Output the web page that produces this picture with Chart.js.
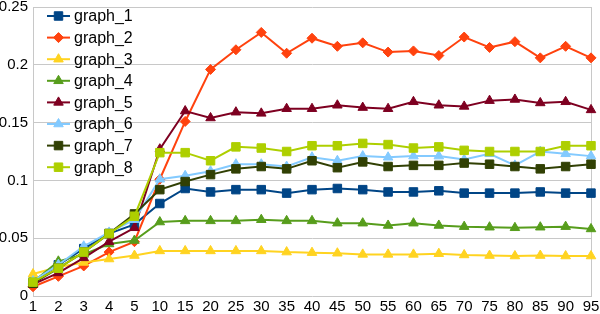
<!DOCTYPE html>
<html>
<head>
<meta charset="utf-8">
<script src="https://cdn.jsdelivr.net/npm/chart.js@4.4.0/dist/chart.umd.min.js"></script>
<style>
  html, body { margin: 0; padding: 0; background: #fff; }
  #wrap { width: 600px; height: 314px; position: relative; }
</style>
</head>
<body>
<div id="wrap"><canvas id="chart"></canvas></div>
<script>
const categories = ['1', '2', '3', '4', '5', '10', '15', '20', '25', '30', '35', '40', '45', '50', '55', '60', '65', '70', '75', '80', '85', '90', '95'];

const graph1 = [0.012, 0.027, 0.041, 0.054, 0.062, 0.080, 0.093, 0.090, 0.092, 0.092, 0.089, 0.092, 0.093, 0.092, 0.090, 0.090, 0.091, 0.089, 0.089, 0.089, 0.090, 0.089, 0.089];
const graph2 = [0.008, 0.017, 0.026, 0.038, 0.047, 0.101, 0.151, 0.196, 0.213, 0.228, 0.210, 0.223, 0.216, 0.219, 0.211, 0.212, 0.208, 0.224, 0.215, 0.220, 0.206, 0.216, 0.206];
const graph3 = [0.019, 0.025, 0.029, 0.032, 0.035, 0.039, 0.039, 0.039, 0.039, 0.039, 0.038, 0.0375, 0.037, 0.036, 0.036, 0.036, 0.0366, 0.0355, 0.035, 0.0346, 0.035, 0.0346, 0.0346];
const graph4 = [0.012, 0.030, 0.036, 0.045, 0.048, 0.064, 0.065, 0.065, 0.065, 0.066, 0.065, 0.065, 0.063, 0.063, 0.061, 0.063, 0.061, 0.060, 0.0595, 0.059, 0.0595, 0.060, 0.058];
const graph5 = [0.010, 0.020, 0.033, 0.047, 0.059, 0.127, 0.160, 0.154, 0.159, 0.158, 0.162, 0.162, 0.165, 0.163, 0.162, 0.168, 0.165, 0.164, 0.169, 0.170, 0.167, 0.168, 0.161];
const graph6 = [0.013, 0.027, 0.043, 0.055, 0.066, 0.101, 0.104, 0.108, 0.114, 0.114, 0.112, 0.120, 0.117, 0.121, 0.120, 0.121, 0.121, 0.118, 0.123, 0.113, 0.125, 0.123, 0.121];
const graph7 = [0.011, 0.024, 0.038, 0.054, 0.071, 0.092, 0.099, 0.105, 0.110, 0.112, 0.110, 0.117, 0.111, 0.116, 0.112, 0.113, 0.113, 0.115, 0.114, 0.112, 0.110, 0.112, 0.114];
const graph8 = [0.012, 0.024, 0.038, 0.054, 0.069, 0.124, 0.124, 0.117, 0.129, 0.128, 0.125, 0.130, 0.130, 0.132, 0.131, 0.128, 0.129, 0.126, 0.125, 0.125, 0.125, 0.130, 0.130];

const seriesNames = ['graph_1', 'graph_2', 'graph_3', 'graph_4', 'graph_5', 'graph_6', 'graph_7', 'graph_8'];
const seriesData = [graph1, graph2, graph3, graph4, graph5, graph6, graph7, graph8];
const seriesColors = ['#004586', '#ff420e', '#ffd320', '#579d1c', '#7e0021', '#83caff', '#314004', '#aecf00'];
const seriesMarkers = ['rect', 'rectRot', 'triangle', 'triangle', 'triangle', 'triangle', 'rect', 'rect'];
const yTicks = [0, 0.05, 0.1, 0.15, 0.2, 0.25];

const FONT = '"Liberation Sans", Arial, sans-serif';

function markerRadius(style) {
    if (style === 'rect') return 6;
    if (style === 'rectRot') return 5;
    return 5.5;
}

const datasets = seriesNames.map((name, i) => ({
    label: name,
    data: seriesData[i],
    borderColor: seriesColors[i],
    backgroundColor: seriesColors[i],
    borderWidth: 2,
    pointStyle: seriesMarkers[i],
    pointRadius: markerRadius(seriesMarkers[i]),
    pointBorderWidth: 1,
    pointBackgroundColor: seriesColors[i],
    pointBorderColor: seriesColors[i],
    tension: 0,
    fill: false,
    order: seriesNames.length - i
}));

// legend drawn inside the plot, line + marker like the original
const insideLegend = {
    id: 'insideLegend',
    afterDraw(chart) {
        const ctx = chart.ctx;
        const left = chart.chartArea.left;
        ctx.save();
        chart.data.datasets.forEach((ds, i) => {
            const y = 16 + i * 21.6;
            ctx.strokeStyle = ds.borderColor;
            ctx.fillStyle = ds.borderColor;
            ctx.lineWidth = 2;
            ctx.beginPath();
            ctx.moveTo(left + 14, y);
            ctx.lineTo(left + 37, y);
            ctx.stroke();
            ctx.lineWidth = 1;
            Chart.helpers.drawPoint(ctx, {
                pointStyle: ds.pointStyle,
                rotation: 0,
                radius: ds.pointRadius,
                borderWidth: 1
            }, left + 25.5, y);
            ctx.fillStyle = '#000';
            ctx.font = '16px ' + FONT;
            ctx.textBaseline = 'middle';
            ctx.textAlign = 'left';
            ctx.fillText(ds.label, left + 41, y + 1);
        });
        ctx.restore();
    }
};

const whiteBg = {
    id: 'whiteBg',
    beforeDraw(chart) {
        const ctx = chart.ctx;
        ctx.save();
        ctx.fillStyle = '#fff';
        ctx.fillRect(0, 0, chart.width, chart.height);
        ctx.restore();
    }
};

function noOverflow(scale) {
    scale.paddingTop = 0;
    scale.paddingBottom = 0;
    scale.paddingLeft = 0;
    scale.paddingRight = 0;
}

new Chart(document.getElementById('chart'), {
    type: 'line',
    data: { labels: categories, datasets: datasets },
    options: {
        responsive: true,
        maintainAspectRatio: false,
        animation: false,
        layout: { padding: { top: 7, right: 9, left: 0, bottom: 0 } },
        plugins: {
            legend: { display: false },
            tooltip: { enabled: false }
        },
        scales: {
            x: {
                offset: false,
                grid: { display: false, drawTicks: false },
                border: { display: false },
                ticks: {
                    autoSkip: false,
                    maxRotation: 0,
                    padding: 2,
                    color: '#000',
                    font: { family: FONT, size: 15 }
                },
                afterFit(scale) {
                    scale.height = 18;
                    noOverflow(scale);
                }
            },
            y: {
                min: 0,
                max: 0.25,
                afterBuildTicks(scale) { scale.ticks = yTicks.map(v => ({ value: v })); },
                grid: { color: '#c8c8c8', lineWidth: 1, drawTicks: false },
                border: { display: true, color: '#c8c8c8' },
                ticks: {
                    padding: 5,
                    color: '#000',
                    font: { family: FONT, size: 15 },
                    callback: v => String(Math.round(v * 100) / 100)
                },
                afterFit(scale) {
                    scale.width = 33;
                    noOverflow(scale);
                }
            },
            yRight: {
                position: 'right',
                min: 0,
                max: 0.25,
                grid: { display: false },
                border: { display: true, color: '#c8c8c8' },
                ticks: { display: false },
                afterFit(scale) {
                    scale.width = 0;
                    noOverflow(scale);
                }
            }
        }
    },
    plugins: [whiteBg, insideLegend]
});
</script>
</body>
</html>
